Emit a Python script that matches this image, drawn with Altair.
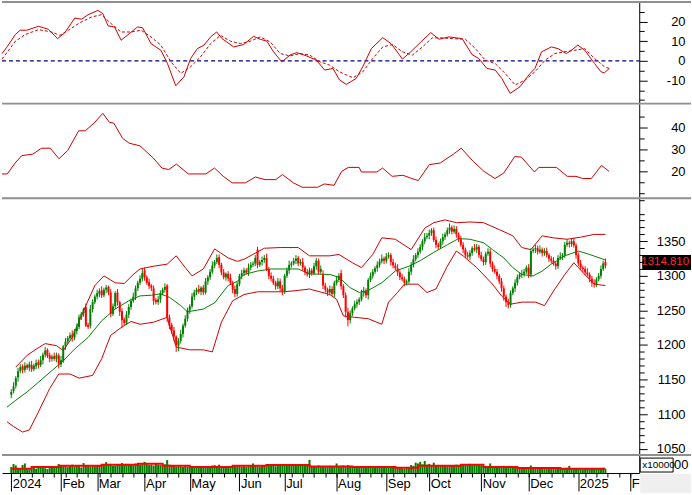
import altair as alt
import pandas as pd

GREEN = "#008000"
RED = "#ff0000"
DRED = "#cc0000"
GRAY = "#8f8f8f"
FONT = "Liberation Sans"

# ---------------- data ----------------
month_idx = [0, 22, 38, 59, 79, 101, 121, 144, 166, 185, 208, 229, 251, 274]
month_lbl = ["2024", "Feb", "Mar", "Apr", "May", "Jun", "Jul", "Aug", "Sep", "Oct", "Nov", "Dec", "2025", "F"]
week_idx = list(range(4, 275, 5))

closes = [
    1132, 1140, 1152, 1162, 1168, 1164, 1170, 1167, 1172, 1165,
    1170, 1174, 1171, 1178, 1186, 1192, 1184, 1180, 1183, 1180,
    1185, 1172, 1178, 1198, 1205, 1210, 1214, 1211, 1220, 1226,
    1240, 1245, 1252, 1228, 1226, 1252, 1262, 1270, 1275, 1278,
    1272, 1280, 1283, 1276, 1245, 1256, 1275, 1262, 1248, 1236,
    1232, 1244, 1255, 1264, 1270, 1282, 1290, 1296, 1304, 1298,
    1290, 1285, 1283, 1264, 1262, 1266, 1275, 1280, 1284, 1240,
    1228, 1220, 1212, 1200, 1206, 1216, 1228, 1238, 1250, 1256,
    1270, 1276, 1280, 1277, 1283, 1276, 1292, 1298, 1306, 1315,
    1320, 1326, 1316, 1305, 1298, 1303, 1296, 1290, 1280, 1274,
    1288, 1300, 1304, 1308, 1305, 1312, 1316, 1318, 1326, 1316,
    1320, 1323, 1326, 1310, 1300, 1296, 1290, 1285, 1292, 1282,
    1278, 1300, 1308, 1316, 1318, 1322, 1325, 1318, 1320, 1312,
    1305, 1302, 1308, 1304, 1314, 1322, 1306, 1310, 1286, 1280,
    1276, 1281, 1274, 1290, 1294, 1300, 1285, 1272, 1248, 1236,
    1246, 1253, 1259, 1262, 1266, 1275, 1278, 1272, 1294, 1300,
    1306, 1311, 1316, 1321, 1325, 1322, 1328, 1330, 1320, 1315,
    1311, 1305, 1298, 1295, 1290, 1292, 1306, 1316, 1324, 1330,
    1335, 1342, 1350, 1356, 1358, 1362, 1366, 1352, 1345, 1342,
    1350, 1356, 1360, 1366, 1370, 1364, 1368, 1360, 1353, 1345,
    1338, 1330, 1328, 1333, 1340, 1338, 1342, 1330, 1324, 1320,
    1332, 1335, 1318, 1310, 1306, 1300, 1292, 1282, 1270, 1262,
    1258, 1275, 1282, 1290, 1298, 1302, 1303, 1306, 1312, 1302,
    1336, 1338, 1340, 1335, 1338, 1333, 1336, 1330, 1325, 1322,
    1318, 1314, 1326, 1328, 1330, 1345, 1348, 1346, 1350, 1344,
    1330, 1318, 1312, 1310, 1305, 1302, 1296, 1290, 1288, 1295,
    1300, 1310, 1318, 1314.81,
]
opens = [
    1128, 1133, 1141, 1153, 1162, 1169, 1164, 1171, 1167, 1171,
    1165, 1169, 1175, 1171, 1178, 1186, 1193, 1185, 1180, 1184,
    1180, 1185, 1172, 1177, 1198, 1205, 1210, 1215, 1211, 1220,
    1226, 1240, 1246, 1255, 1229, 1228, 1252, 1262, 1270, 1274,
    1279, 1272, 1280, 1284, 1276, 1245, 1256, 1276, 1262, 1249,
    1237, 1232, 1244, 1255, 1264, 1270, 1282, 1290, 1296, 1308,
    1298, 1291, 1286, 1282, 1265, 1262, 1266, 1275, 1280, 1286,
    1240, 1229, 1221, 1212, 1199, 1206, 1216, 1228, 1238, 1250,
    1256, 1270, 1276, 1281, 1277, 1283, 1276, 1292, 1298, 1306,
    1315, 1320, 1327, 1316, 1305, 1298, 1303, 1297, 1290, 1281,
    1274, 1288, 1300, 1304, 1308, 1305, 1312, 1316, 1318, 1338,
    1316, 1320, 1323, 1326, 1310, 1300, 1296, 1290, 1285, 1292,
    1282, 1278, 1300, 1308, 1316, 1318, 1322, 1326, 1318, 1320,
    1312, 1305, 1302, 1308, 1304, 1314, 1322, 1306, 1302, 1286,
    1280, 1276, 1281, 1274, 1290, 1294, 1304, 1285, 1272, 1248,
    1236, 1246, 1253, 1259, 1262, 1266, 1275, 1278, 1272, 1294,
    1300, 1306, 1311, 1316, 1321, 1325, 1322, 1328, 1330, 1320,
    1315, 1311, 1305, 1298, 1295, 1290, 1292, 1306, 1316, 1324,
    1330, 1335, 1342, 1350, 1356, 1358, 1362, 1366, 1352, 1345,
    1342, 1350, 1356, 1360, 1366, 1370, 1364, 1368, 1360, 1353,
    1345, 1338, 1330, 1328, 1333, 1340, 1338, 1342, 1330, 1324,
    1320, 1332, 1335, 1318, 1310, 1306, 1300, 1292, 1282, 1270,
    1262, 1258, 1275, 1282, 1290, 1298, 1302, 1303, 1306, 1312,
    1302, 1336, 1338, 1340, 1335, 1338, 1333, 1336, 1330, 1325,
    1322, 1318, 1314, 1326, 1328, 1330, 1345, 1348, 1346, 1350,
    1344, 1330, 1318, 1312, 1310, 1305, 1302, 1296, 1290, 1288,
    1295, 1300, 1310, 1320,
]
wick_hi = [
    4, 6, 3, 5, 4, 3, 5, 2, 4, 6, 3, 5, 4, 6, 3, 5, 2, 4, 3, 5,
    4, 3, 6, 2, 5, 3, 4, 6, 3, 5, 4, 3, 2, 5, 3, 6, 4, 3, 5, 4,
    6, 3, 4, 2, 5, 4, 3, 5, 2, 4, 3, 5, 4, 3, 6, 4, 3, 5, 6, 4,
    3, 5, 2, 4, 3, 5, 4, 3, 5, 2, 4, 3, 5, 2, 4, 6, 3, 5, 4, 3,
    5, 4, 3, 6, 2, 4, 5, 3, 4, 6, 3, 5, 4, 3, 5, 2, 4, 6, 3, 5,
    4, 3, 5, 4, 3, 6, 4, 3, 4, 4, 3, 5, 4, 6, 3, 5, 4, 3, 5, 4,
    5, 3, 4, 6, 3, 4, 5, 3, 4, 6, 3, 5, 4, 3, 5, 4, 3, 5, 6, 4,
    3, 5, 4, 3, 6, 4, 5, 3, 4, 6, 4, 3, 5, 4, 3, 5, 6, 4, 3, 5,
    4, 3, 5, 4, 6, 3, 5, 4, 3, 5, 4, 6, 3, 5, 4, 3, 5, 4, 6, 3,
    5, 4, 3, 6, 4, 5, 3, 4, 5, 3, 4, 5, 3, 4, 6, 3, 5, 4, 3, 5,
    4, 3, 5, 4, 3, 6, 4, 3, 5, 4, 3, 5, 4, 3, 5, 4, 3, 5, 4, 3,
    5, 4, 3, 5, 4, 3, 6, 4, 3, 5, 4, 3, 5, 4, 6, 3, 4, 5, 3, 4,
    5, 3, 4, 6, 3, 4, 5, 3, 4, 5, 3, 4, 5, 3, 4, 6, 3, 4, 5, 3,
    4, 5, 4, 5,
]
wick_lo = [
    5, 3, 4, 6, 3, 5, 4, 3, 5, 4, 3, 4, 5, 3, 6, 4, 3, 5, 4, 3,
    5, 6, 4, 3, 5, 4, 3, 6, 4, 5, 3, 4, 5, 2, 3, 4, 5, 3, 4, 5,
    4, 3, 5, 4, 5, 3, 4, 5, 6, 11, 4, 3, 5, 4, 3, 5, 4, 3, 4, 5,
    3, 4, 5, 6, 3, 4, 5, 3, 4, 7, 5, 4, 6, 10, 8, 4, 5, 3, 4, 5,
    3, 5, 4, 3, 5, 4, 3, 5, 4, 3, 4, 3, 5, 4, 3, 5, 4, 3, 5, 5,
    4, 3, 5, 4, 3, 5, 4, 3, 4, 5, 3, 5, 4, 3, 5, 4, 3, 5, 4, 5,
    6, 4, 3, 5, 4, 3, 5, 4, 3, 5, 4, 3, 5, 4, 3, 5, 4, 3, 5, 4,
    5, 4, 3, 5, 4, 3, 5, 4, 8, 9, 5, 4, 3, 5, 4, 3, 5, 4, 6, 3,
    4, 3, 5, 4, 3, 5, 4, 3, 5, 4, 3, 5, 4, 3, 5, 4, 3, 5, 4, 3,
    4, 3, 5, 4, 3, 5, 4, 3, 5, 4, 3, 5, 4, 3, 5, 4, 3, 5, 4, 3,
    5, 4, 3, 5, 4, 3, 5, 4, 3, 5, 4, 3, 5, 4, 3, 5, 4, 5, 6, 7,
    5, 4, 3, 5, 4, 3, 5, 4, 3, 5, 4, 3, 5, 4, 3, 5, 4, 3, 5, 4,
    3, 5, 4, 3, 5, 4, 3, 5, 4, 3, 5, 4, 3, 5, 4, 3, 5, 6, 5, 4,
    3, 4, 3, 4,
]
volumes = [
    30, 45, 38, 25, 22, 40, 48, 20, 18, 24, 26, 22, 30, 28, 35, 24, 20, 32, 27, 25,
    30, 45, 38, 34, 40, 30, 36, 42, 33, 38, 35, 28, 50, 40, 36, 32, 38, 34, 40, 36,
    38, 42, 55, 40, 46, 36, 38, 44, 40, 50, 42, 46, 40, 44, 38, 48, 46, 42, 45, 56,
    44, 40, 42, 38, 46, 42, 40, 38, 44, 65, 42, 38, 36, 32, 40, 34, 30, 36, 32, 34,
    28, 32, 30, 26, 30, 28, 25, 30, 32, 38, 40, 36, 42, 35, 30, 28, 32, 30, 34, 36,
    34, 38, 32, 36, 30, 34, 40, 48, 36, 34, 32, 36, 38, 34, 40, 36, 38, 34, 36, 40,
    42, 36, 38, 40, 44, 36, 38, 42, 40, 36, 38, 42, 66, 36, 34, 32, 38, 30, 34, 32,
    30, 36, 32, 34, 48, 30, 36, 38, 34, 40, 36, 30, 28, 32, 30, 26, 28, 32, 30, 34,
    28, 30, 32, 26, 30, 28, 32, 30, 28, 30, 24, 26, 28, 24, 22, 26, 28, 40, 36, 52,
    48, 56, 44, 60, 42, 46, 40, 52, 38, 36, 40, 36, 38, 34, 40, 36, 38, 42, 36, 40,
    42, 44, 40, 46, 38, 42, 40, 44, 38, 36, 34, 30, 48, 28, 32, 30, 34, 28, 36, 32,
    36, 30, 28, 26, 24, 28, 26, 22, 24, 26, 38, 28, 24, 26, 22, 28, 24, 26, 22, 24,
    26, 22, 24, 20, 22, 24, 26, 36, 22, 20, 24, 22, 20, 18, 22, 24, 20, 22, 24, 20,
    22, 24, 26, 20,
]
vol_ma_idx = [0, 9, 21, 40, 56, 67, 79, 98, 113, 132, 151, 170, 180, 199, 209, 224, 243, 263]
vol_ma_val = [21, 30, 36, 41, 46, 36, 30, 36, 40, 33, 30, 26, 36, 41, 30, 25, 21, 21]

bb_up_idx = [2, 7, 11, 15, 20, 23, 27, 33, 37, 41, 46, 50, 54, 57, 63, 69, 73, 77, 80, 85,
             90, 96, 100, 103, 112, 119, 127, 132, 141, 145, 151, 155, 160, 164, 170, 177,
             183, 187, 192, 197, 203, 209, 216, 222, 226, 230, 235, 240, 246, 252, 258, 263]
bb_up_val = [1168, 1185, 1194, 1202, 1199, 1192, 1211, 1257, 1286, 1300, 1290, 1289, 1302, 1310,
             1314, 1317, 1329, 1312, 1300, 1310, 1339, 1326, 1321, 1324, 1340, 1341, 1341, 1329,
             1329, 1331, 1319, 1312, 1331, 1355, 1353, 1338, 1369, 1377, 1381, 1377, 1378, 1377,
             1367, 1358, 1341, 1338, 1358, 1355, 1353, 1356, 1360, 1360]
bb_mid_idx = [-1.9, 2, 7, 12, 18, 23, 28, 34, 40, 46, 52, 57, 62, 66, 70, 75, 78, 85, 90, 96,
              100, 103, 109, 115, 121, 127, 132, 141, 145, 150, 154, 158, 164, 170, 176, 181,
              187, 193, 198, 203, 209, 213, 218, 222, 226, 231, 235, 239, 245, 251, 256, 263]
bb_mid_val = [1110, 1120, 1132, 1146, 1163, 1177, 1194, 1211, 1235, 1252, 1264, 1271, 1272, 1274,
              1269, 1257, 1248, 1252, 1261, 1286, 1292, 1302, 1307, 1310, 1310, 1310, 1303, 1302,
              1298, 1283, 1276, 1279, 1290, 1307, 1314, 1322, 1334, 1345, 1354, 1353, 1348, 1338,
              1326, 1312, 1302, 1300, 1307, 1317, 1329, 1336, 1331, 1323]
bb_lo_idx = [-1.9, 1, 5, 8, 12, 17, 21, 26, 30, 36, 40, 44, 49, 53, 57, 63, 69, 73, 79, 85,
             89, 93, 98, 103, 109, 115, 121, 127, 132, 141, 144, 147, 152, 158, 164, 167, 171,
             174, 180, 184, 188, 193, 197, 200, 206, 213, 217, 221, 226, 232, 236, 240, 245,
             249, 253, 258, 263]
bb_lo_val = [1089, 1082, 1074, 1077, 1103, 1137, 1158, 1158, 1152, 1156, 1180, 1214, 1226, 1234,
             1230, 1233, 1240, 1197, 1193, 1193, 1190, 1233, 1264, 1273, 1277, 1277, 1277, 1279,
             1281, 1273, 1266, 1242, 1240, 1238, 1230, 1262, 1276, 1288, 1288, 1276, 1281, 1314,
             1336, 1329, 1312, 1288, 1271, 1259, 1262, 1262, 1257, 1278, 1302, 1319, 1305, 1288,
             1286]

macd_idx = [-1.9, 0.3, 3.9, 6, 8.9, 14, 18.3, 22.3, 25.5, 29.8, 32.7, 35.6, 39.9, 42.1, 44.3,
            47.1, 50, 53.6, 57.2, 59.4, 63, 67.3, 70.2, 73.8, 77.4, 80.3, 83.2, 86.1, 89, 91.6,
            94, 99, 103.4, 107.7, 110.6, 113.5, 116.4, 120, 123.6, 126.5, 130.8, 135.1, 138.7,
            142.3, 145.2, 148.1, 152.4, 155.3, 159, 164, 167.6, 172.6, 176.2, 180.6, 184.9,
            188.5, 192.8, 198.6, 202.9, 205.8, 209.4, 213, 215.9, 219.5, 223.8, 228.2, 230.3,
            233.2, 237.5, 240.4, 244, 246.2, 249, 252, 256.3, 259.1, 260.6, 262.7]
macd_val = [3.7, 7.1, 13.4, 15.6, 15.6, 17.6, 16.1, 11.3, 14.4, 21.8, 21.2, 23.5, 25.7, 24, 17.8,
            17.3, 10.5, 13.9, 17.3, 16.8, 8.8, 5.4, -1.4, -12.7, -8.1, 1.2, 6.2, 8, 12.2, 14.7,
            11.3, 7.1, 8.3, 12.5, 11, 10, 4.6, -0.5, 2.9, 4.2, 2.5, 0.3, -4.7, -3.9, -9.8, -12,
            -9, -3, 6.2, 11.8, 8.8, 0.9, 4.6, 9.6, 14.4, 11, 12.2, 11.3, 3.2, 1.2, -3.9, -4.7,
            -9, -16.6, -13.2, -6.4, -3.9, 4.6, 7.1, 6.2, 3.7, 5.4, 8, 5.4, -1.4, -5.6, -6.1, -3.9]
sig_idx = [-1.9, 1, 3.9, 8.2, 14, 19.7, 23.3, 27, 32, 37, 41.4, 45.7, 50, 54.4, 58.7, 63, 67.3,
           71.7, 76, 80.3, 84.6, 89, 93.3, 97.6, 102, 106.3, 110.6, 115, 119.3, 123.6, 128,
           132.2, 136.6, 140.9, 145.2, 146.6, 151, 155.3, 159.6, 164, 168.3, 172.6, 176.9,
           181.3, 185.6, 189.9, 194.3, 200, 204.4, 208.7, 213, 217.3, 221.7, 226, 230.3, 234.7,
           239, 243.4, 247.7, 252, 256.3, 260.6, 262.7]
sig_val = [0.9, 5.4, 10, 13.4, 15.9, 14.7, 13, 15.6, 19.4, 22.3, 23.5, 18.9, 14.7, 14.7, 15.6,
           12.2, 8, -0.5, -6.4, -3, 2, 8.8, 13, 10, 8.8, 10, 12.2, 9.6, 3.7, 2.5, 3.7, 2.9, -0.5,
           -2.2, -5.6, -6.4, -8.6, -5.6, 1.2, 7.1, 8.3, 4.6, 2.9, 7.1, 11.7, 11.7, 11.3, 11, 6.2,
           0.3, -1.4, -6.4, -12.3, -9.8, -5.6, 0.3, 3.7, 4.6, 5.4, 6.2, 1.2, -3, -3.9]

ind2_idx = [-1.9, 0.4, 3.8, 6.7, 11.5, 15.3, 19.1, 22.9, 26.7, 31.5, 34.4, 38.2, 42, 44.9, 46.8,
            50.6, 53.5, 58.2, 64, 67.8, 70.7, 74.1, 79.3, 86.9, 90.7, 94.5, 98.4, 104.1, 108.5,
            112.7, 117.4, 120.3, 125.1, 128.9, 135.6, 138.5, 142.8, 146.1, 149, 153.7, 154.7,
            161.4, 163.9, 168.1, 172.8, 176.6, 179.5, 184.3, 189, 194.8, 198.2, 203.4, 208.1,
            212.9, 216.7, 221.5, 224.4, 230.1, 232, 239.7, 244.4, 248.2, 251.1, 254.9, 259.3, 262.6]
ind2_val = [18.8, 18.8, 23.8, 27.2, 27.9, 30.6, 30.6, 25.8, 29.5, 38.6, 38.6, 42.1, 46.6, 42.5,
            42.1, 35.2, 32.9, 31.7, 26.1, 21.5, 20.8, 23.3, 18.8, 18.8, 21.5, 17.7, 14.7, 14.7,
            17.4, 16.2, 16.2, 18.5, 14.7, 12.7, 12.7, 14.2, 13.6, 20, 21.8, 21.8, 19.7, 19.7, 21.5,
            17.7, 18.2, 16.7, 15.8, 23.1, 23.8, 27.9, 30.6, 24.6, 20, 16.7, 19.2, 26.8, 26.5, 19.7,
            21.8, 21.8, 17.7, 17.7, 16.7, 16.7, 22.7, 20]

last_price = 1314.81
last_label = "1314.810"

# ---------------- layout helpers ----------------
W = 640
H1, H2, H3, H4 = 101, 94, 257, 18
XS = alt.Scale(domain=[-1.91, 275.75], nice=False, zero=False)


def X(field="i"):
    return alt.X(f"{field}:Q", scale=XS, axis=None)


def pts(idx, val):
    return pd.DataFrame({"i": idx, "v": val})


one = pd.DataFrame({"k": [0]})


def separator():
    return alt.Chart(one).mark_rule(color=GRAY, strokeWidth=2).encode(
        x=alt.value(0), x2=alt.value(692), y=alt.value(0))


def major_axis(vals):
    return alt.Axis(orient="right", values=vals, tickSize=8, labelAlign="right",
                    labelPadding=38, labelExpr="'' + datum.value", title=None, grid=False,
                    domain=True, domainColor="black", tickColor="black", labelFont=FONT,
                    labelFontSize=13, labelColor="#000000", labelBaseline="middle")


def minor_layer(scale, vals):
    return alt.Chart(pd.DataFrame({"v": vals})).mark_point(opacity=0).encode(
        y=alt.Y("v:Q", scale=scale,
                axis=alt.Axis(orient="right", values=vals, tickSize=5, labels=False, title=None,
                              grid=False, domain=False, tickColor="black")))


# ---------------- panel 1 : MACD ----------------
y1 = alt.Scale(domain=[-21.3, 29.95], nice=False, zero=False)
zero = alt.Chart(pd.DataFrame({"v": [0]})).mark_rule(
    color="#000080", strokeDash=[4, 3], strokeWidth=1.3).encode(
    x=alt.value(0), x2=alt.value(W), y=alt.Y("v:Q", scale=y1, axis=None))
sig = alt.Chart(pts(sig_idx, sig_val)).mark_line(color=DRED, strokeWidth=1, strokeDash=[3, 2]).encode(
    x=X(), y=alt.Y("v:Q", scale=y1, axis=None))
macd = alt.Chart(pts(macd_idx, macd_val)).mark_line(color=DRED, strokeWidth=1).encode(
    x=X(), y=alt.Y("v:Q", scale=y1, axis=major_axis([-10, 0, 10, 20])))
p1 = alt.layer(minor_layer(y1, [-20, -15, -5, 5, 15, 25]), zero, sig, macd, separator()).resolve_axis(
    y="independent").properties(width=W, height=H1)

# ---------------- panel 2 : indicator ----------------
y2 = alt.Scale(domain=[8.13, 51.05], nice=False, zero=False)
ind = alt.Chart(pts(ind2_idx, ind2_val)).mark_line(color=DRED, strokeWidth=1).encode(
    x=X(), y=alt.Y("v:Q", scale=y2, axis=major_axis([20, 30, 40])))
p2 = alt.layer(minor_layer(y2, [10, 15, 25, 35, 45]), ind, separator()).resolve_axis(
    y="independent").properties(width=W, height=H2)

# ---------------- panel 3 : price ----------------
y3 = alt.Scale(domain=[1039.2 + 2 / 0.694, 1412.4], nice=False, zero=False)
rows = []
for k, (o, c, wh, wl) in enumerate(zip(opens, closes, wick_hi, wick_lo)):
    rows.append({"i": k, "o": o, "c": c, "h": max(o, c) + wh, "l": min(o, c) - wl,
                 "col": GREEN if c >= o else RED})
candles = pd.DataFrame(rows)

upper = alt.Chart(pts(bb_up_idx, bb_up_val)).mark_line(color=DRED, strokeWidth=1).encode(
    x=X(), y=alt.Y("v:Q", scale=y3, axis=major_axis([1050, 1100, 1150, 1200, 1250, 1300, 1350])))
lower = alt.Chart(pts(bb_lo_idx, bb_lo_val)).mark_line(color=DRED, strokeWidth=1, clip=True).encode(
    x=X(), y=alt.Y("v:Q", scale=y3, axis=None))
middle = alt.Chart(pts(bb_mid_idx, bb_mid_val)).mark_line(color=GREEN, strokeWidth=1, clip=True).encode(
    x=X(), y=alt.Y("v:Q", scale=y3, axis=None))
wicks = alt.Chart(candles).mark_rule(strokeWidth=1).encode(
    x=X(), y=alt.Y("l:Q", scale=y3, axis=None), y2="h:Q",
    color=alt.Color("col:N", scale=None))
bodies = alt.Chart(candles).mark_bar(size=2).encode(
    x=X(), y=alt.Y("o:Q", scale=y3, axis=None), y2="c:Q",
    color=alt.Color("col:N", scale=None))
last_df = pd.DataFrame({"top": [last_price + 15.4], "bot": [last_price - 6.2],
                        "ty": [last_price + 5.2], "t": [last_label]})
last_box = alt.Chart(last_df).mark_rect(color="black").encode(
    x=alt.value(643), x2=alt.value(692), y=alt.Y("top:Q", scale=y3, axis=None), y2="bot:Q")
last_txt = alt.Chart(last_df).mark_text(color="#ff2a2a", fontSize=11.5, font=FONT, align="right",
                                        baseline="middle").encode(
    x=alt.value(690), y=alt.Y("ty:Q", scale=y3, axis=None), text="t:N")
minor_p = [v for v in range(1050, 1411, 10) if v % 50 != 0]
p3 = alt.layer(minor_layer(y3, minor_p), upper, lower, middle, wicks, bodies, last_box, last_txt,
               separator()).resolve_axis(y="independent").properties(width=W, height=H3)

# ---------------- panel 4 : volume + date axis ----------------
y4 = alt.Scale(domain=[0, 90], nice=False, zero=True)
label_expr = " : ".join(f"datum.value == {i} ? '{l}'" for i, l in zip(month_idx, month_lbl)) + " : ''"
xaxis = alt.Axis(orient="bottom", values=month_idx, labelExpr=label_expr, tickSize=18,
                 tickColor="black", domainColor="black", labelAlign="left", labelBaseline="top",
                 labelPadding=-13, labelOffset=1, labelFontSize=13, labelFont=FONT,
                 labelColor="#000000", labelOverlap=False, labelFlush=False, labelBound=False,
                 grid=False, title=None)
yaxis4 = alt.Axis(orient="right", labels=False, ticks=False, domain=True,
                  domainColor="black", title=None, grid=False)
vol_df = pd.DataFrame({"i": list(range(len(volumes))), "v": volumes})
week_ticks = alt.Chart(pd.DataFrame({"i": week_idx})).mark_point(opacity=0).encode(
    x=alt.X("i:Q", scale=XS, axis=alt.Axis(orient="bottom", values=week_idx, tickSize=4,
                                           labels=False, domain=False, grid=False, title=None,
                                           tickColor="black")))
vbars = alt.Chart(vol_df).mark_bar(size=2, color=GREEN).encode(
    x=alt.X("i:Q", scale=XS, axis=xaxis), y=alt.Y("v:Q", scale=y4, axis=yaxis4))
vma = alt.Chart(pts(vol_ma_idx, vol_ma_val)).mark_line(color=RED, strokeWidth=2,
                                                       interpolate="step-after").encode(
    x=X(), y=alt.Y("v:Q", scale=y4, axis=yaxis4))
gray_corner = alt.Chart(one).mark_rect(color="#efefef").encode(
    x=alt.value(641), x2=alt.value(692), y=alt.value(19), y2=alt.value(38))
unit_box = alt.Chart(one).mark_rect(fill="white", stroke="black", strokeWidth=1).encode(
    x=alt.value(641), x2=alt.value(674), y=alt.value(3), y2=alt.value(17))
unit_txt = alt.Chart(one).mark_text(text="x10000", fontSize=10, font=FONT, align="left",
                                    baseline="middle", color="#000000").encode(
    x=alt.value(643), y=alt.value(10))
unit_rest = alt.Chart(one).mark_text(text="00", fontSize=13, font=FONT, align="left",
                                     baseline="middle", color="#000000").encode(
    x=alt.value(675), y=alt.value(10))
p4 = alt.layer(gray_corner, week_ticks, vbars, vma, unit_box, unit_txt, unit_rest,
               separator()).resolve_axis(x="independent").properties(width=W, height=H4)

chart = alt.vconcat(p1, p2, p3, p4, spacing=1, bounds="flush").properties(
    padding=0).configure_view(stroke=None)

chart.save("out.html", embed_options={"renderer": "svg", "actions": False})
